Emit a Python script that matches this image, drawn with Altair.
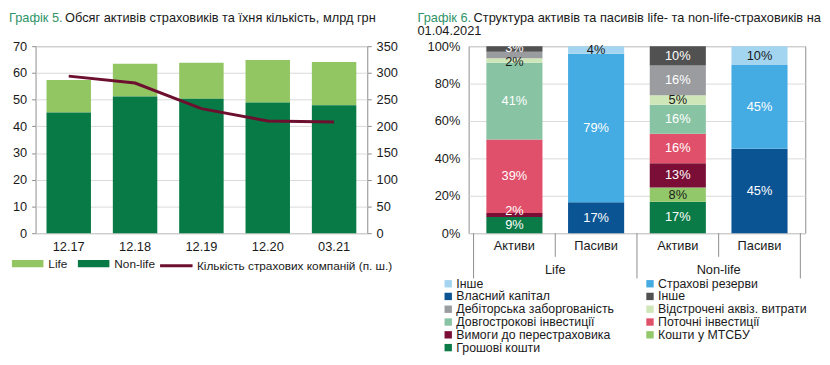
import altair as alt
import pandas as pd

FONT = "Liberation Sans"
TXT = "#1a1a1a"
GREEN_TITLE = "#2f9468"

# ---------------- Графік 5 data ----------------
periods = ["12.17", "12.18", "12.19", "12.20", "03.21"]
nonlife_assets = [45.2, 51.2, 50.3, 48.9, 47.9]
life_assets = [12.1, 12.2, 13.5, 15.9, 16.2]
companies = [294, 281, 233, 210, 208]
bar_series = ["Life", "Non-life"]
bar_colors = ["#92c663", "#077a45"]
line_series = "Кількість страхових компаній (п. ш.)"
line_color = "#6d0f2f"

# ---------------- Графік 6 data ----------------
cat_group = ["Life", "Life", "Non-life", "Non-life"]
cat_side = ["Активи", "Пасиви", "Активи", "Пасиви"]
asset_items = ["Грошові кошти", "Кошти у МТСБУ", "Вимоги до перестраховика",
               "Поточні інвестиції", "Довгострокові інвестиції",
               "Відстрочені аквіз. витрати", "Дебіторська заборгованість", "Інше"]
life_asset_vals = [8.6, 0.0, 2.2, 39.3, 41.0, 2.4, 3.5, 3.0]
nonlife_asset_vals = [16.8, 7.6, 13.1, 15.7, 15.6, 5.0, 15.9, 10.4]
liab_items = ["Власний капітал", "Страхові резерви", "Інше "]
life_liab_vals = [16.6, 79.4, 4.0]
nonlife_liab_vals = [45.2, 44.7, 10.1]
unlabeled = [(0, "Дебіторська заборгованість")]
# legend entries, read row by row (two columns) as in the reference
legend_rows = ["Інше ", "Страхові резерви", "Власний капітал", "Інше",
               "Дебіторська заборгованість", "Відстрочені аквіз. витрати",
               "Довгострокові інвестиції", "Поточні інвестиції",
               "Вимоги до перестраховика", "Кошти у МТСБУ", "Грошові кошти"]
legend_row_colors = ["#a3d5f1", "#45ace3", "#0b5494", "#515151", "#9a9c9f", "#cfe6b8",
                     "#88c4a4", "#e0506a", "#7a0e36", "#93c86a", "#0a7a46"]
dark_text_items = ["Інше ", "Відстрочені аквіз. витрати", "Кошти у МТСБУ"]
# small label nudges (pixels) where the reference moved crowded labels
label_nudge = {(0, "Вимоги до перестраховика"): -4,
               (0, "Відстрочені аквіз. витрати"): 2,
               (0, "Інше"): -1}

# Vega fills legend columns top-to-bottom: reorder so rows read as in reference
order_idx = list(range(0, len(legend_rows), 2)) + list(range(1, len(legend_rows), 2))
legend_domain = [legend_rows[i] for i in order_idx]
legend_range = [legend_row_colors[i] for i in order_idx]

# ================= Left panel =================
W5, H5 = 337, 190
df5 = pd.DataFrame({
    "period": periods * 2,
    "series": ["Life"] * len(periods) + ["Non-life"] * len(periods),
    "value": life_assets + nonlife_assets,
    "ord": [2] * len(periods) + [1] * len(periods),
})
dfl = pd.DataFrame({"period": periods, "count": companies,
                    "series": [line_series] * len(periods)})

x5 = alt.X("period:O", sort=periods, title=None,
           scale=alt.Scale(paddingInner=0.33, paddingOuter=0.165),
           axis=alt.Axis(labelAngle=0, labelFontSize=13, labelColor=TXT,
                         domain=False, ticks=False, labelPadding=8))

bars5 = alt.Chart(df5).mark_bar().encode(
    x=x5,
    y=alt.Y("value:Q", stack="zero", title=None,
            scale=alt.Scale(domain=[0, 70], nice=False),
            axis=alt.Axis(orient="left", values=list(range(0, 71, 10)),
                          labelFontSize=13, labelColor=TXT, grid=True,
                          gridColor="#d9d9d9", domain=False, tickSize=4,
                          tickColor="#8c8c8c", labelPadding=5,
                          labelOverlap=False)),
    color=alt.Color("series:N",
                    scale=alt.Scale(domain=bar_series, range=bar_colors),
                    legend=alt.Legend(orient="none", legendX=-24, legendY=205,
                                      direction="horizontal", title=None,
                                      symbolType="M-1,-0.23H1V0.23H-1Z",
                                      symbolSize=1024, symbolStrokeWidth=0,
                                      labelFontSize=12, labelColor=TXT,
                                      labelOffset=5, columnPadding=10)),
    order=alt.Order("ord:Q"),
)

line5 = alt.Chart(dfl).mark_line(strokeWidth=3).encode(
    x=x5,
    y=alt.Y("count:Q", title=None,
            scale=alt.Scale(domain=[0, 350], nice=False),
            axis=alt.Axis(orient="right", values=list(range(0, 351, 50)),
                          labelFontSize=13, labelColor=TXT, grid=False,
                          domain=False, tickSize=4, tickColor="#8c8c8c",
                          labelPadding=5, labelOverlap=False)),
    color=alt.Color("series:N", scale=alt.Scale(domain=[line_series], range=[line_color]),
                    legend=alt.Legend(orient="none", legendX=125, legendY=205,
                                      title=None, symbolType="stroke",
                                      symbolSize=1089, symbolStrokeWidth=3,
                                      labelFontSize=12, labelColor=TXT,
                                      labelOffset=3, labelLimit=400)),
)

t5a = alt.Chart(alt.Data(values=[{"t": "Графік 5."}])).mark_text(
    align="left", baseline="alphabetic", fontSize=13, color=GREEN_TITLE
).encode(text="t:N", x=alt.value(-27), y=alt.value(-25))
t5b = alt.Chart(alt.Data(values=[{"t": "Обсяг активів страховиків та їхня кількість, млрд грн"}])).mark_text(
    align="left", baseline="alphabetic", fontSize=13, color=TXT
).encode(text="t:N", x=alt.value(30), y=alt.value(-25))

left = alt.layer(bars5, line5, t5a, t5b).resolve_scale(
    y="independent", color="independent"
).properties(width=W5, height=H5)

# ================= Right panel =================
W6, H6 = 342, 190
rows = []
for i, (g, s) in enumerate(zip(cat_group, cat_side)):
    if s == "Активи":
        items = asset_items
        vals = life_asset_vals if g == "Life" else nonlife_asset_vals
    else:
        items = liab_items
        vals = life_liab_vals if g == "Life" else nonlife_liab_vals
    for k, (it, v) in enumerate(zip(items, vals)):
        lab = "" if (v <= 0 or (i, it) in unlabeled) else f"{v:.0f}%"
        rows.append({"pos": i + 0.5, "group": g, "side": s, "item": it,
                     "value": v, "ord": k, "label": lab,
                     "dark": it in dark_text_items,
                     "nudge": label_nudge.get((i, it), 0)})
df6 = pd.DataFrame(rows)

df_cat = pd.DataFrame({"pos": [i + 0.5 for i in range(len(cat_side))],
                       "side": cat_side, "group": cat_group})
sep_rows = []
for b in range(len(cat_group) + 1):
    long_ = b == 0 or b == len(cat_group) or cat_group[b - 1] != cat_group[b]
    sep_rows.append({"p": b, "long": long_})
df_sep = pd.DataFrame(sep_rows)

xscale6 = alt.Scale(domain=[0, len(cat_side)], nice=False, zero=False)
x6 = alt.X("pos:Q", scale=xscale6, axis=None, title=None)
yscale6 = alt.Scale(domain=[0, 1], nice=False)
yaxis6 = alt.Axis(format=".0%", values=[0, 0.2, 0.4, 0.6, 0.8, 1.0],
                  labelFontSize=13, labelColor=TXT, grid=True,
                  gridColor="#d9d9d9", domain=False, ticks=False,
                  labelPadding=9, labelOverlap=False, title=None)

base6 = alt.Chart(df6).transform_stack(
    stack="value", groupby=["pos"], sort=[alt.SortField("ord", order="ascending")],
    as_=["y0", "y1"], offset="normalize"
).transform_calculate(mid="(datum.y0 + datum.y1) / 2")

bars6 = base6.mark_bar(size=57).encode(
    x=x6,
    y=alt.Y("y0:Q", title=None, scale=yscale6, axis=yaxis6),
    y2="y1:Q",
    color=alt.Color("item:N", scale=alt.Scale(domain=legend_domain, range=legend_range),
                    legend=alt.Legend(orient="none", legendX=413, legendY=235,
                                      columns=2, title=None, symbolType="square",
                                      symbolSize=56, symbolStrokeWidth=0,
                                      labelFontSize=12.5, labelColor=TXT,
                                      labelOffset=2, rowPadding=-1,
                                      columnPadding=30, labelLimit=400)),
)

label_layers = []
for nudge in sorted(set(df6["nudge"])):
    for dark in (False, True):
        cond = f"datum.label != '' && datum.nudge == {nudge} && " + ("datum.dark" if dark else "!datum.dark")
        label_layers.append(
            base6.transform_filter(cond).mark_text(
                fontSize=13, color=(TXT if dark else "white"), dy=float(nudge)
            ).encode(x=x6, y=alt.Y("mid:Q", title=None, scale=yscale6, axis=yaxis6),
                     text="label:N")
        )

cat_txt = alt.Chart(df_cat).mark_text(fontSize=13, color=TXT).encode(
    x=alt.X("pos:Q", scale=xscale6, axis=None), y=alt.value(H6 + 13), text="side:N")
grp_txt = alt.Chart(df_cat).transform_aggregate(
    gpos="mean(pos)", groupby=["group"]
).mark_text(fontSize=13, color=TXT).encode(
    x=alt.X("gpos:Q", scale=xscale6, axis=None), y=alt.value(H6 + 37), text="group:N")

sep_long = alt.Chart(df_sep).transform_filter("datum.long").mark_rule(
    color="#8c8c8c", strokeWidth=1).encode(
    x=alt.X("p:Q", scale=xscale6, axis=None), y=alt.value(H6), y2=alt.value(H6 + 46))
sep_short = alt.Chart(df_sep).transform_filter("!datum.long").mark_rule(
    color="#8c8c8c", strokeWidth=1).encode(
    x=alt.X("p:Q", scale=xscale6, axis=None), y=alt.value(H6), y2=alt.value(H6 + 24))

t6a = alt.Chart(alt.Data(values=[{"t": "Графік 6."}])).mark_text(
    align="left", baseline="alphabetic", fontSize=13, color=GREEN_TITLE
).encode(text="t:N", x=alt.value(-52), y=alt.value(-25))
t6b = alt.Chart(alt.Data(values=[{"t": "Структура активів та пасивів life- та non-life-страховиків на"}])).mark_text(
    align="left", baseline="alphabetic", fontSize=13, color=TXT
).encode(text="t:N", x=alt.value(5), y=alt.value(-25))
t6c = alt.Chart(alt.Data(values=[{"t": "01.04.2021"}])).mark_text(
    align="left", baseline="alphabetic", fontSize=13, color=TXT
).encode(text="t:N", x=alt.value(-52), y=alt.value(-11))

right = alt.layer(bars6, *label_layers, sep_long, sep_short, cat_txt, grp_txt,
                  t6a, t6b, t6c).properties(width=W6, height=H6)

chart = alt.hconcat(left, right, spacing=18).properties(
    padding={"left": 0, "top": 0, "right": 0, "bottom": 0}
).configure(font=FONT).configure_view(stroke="#8c8c8c", strokeWidth=1)

chart.save("out.html", embed_options={"renderer": "svg", "actions": False})
